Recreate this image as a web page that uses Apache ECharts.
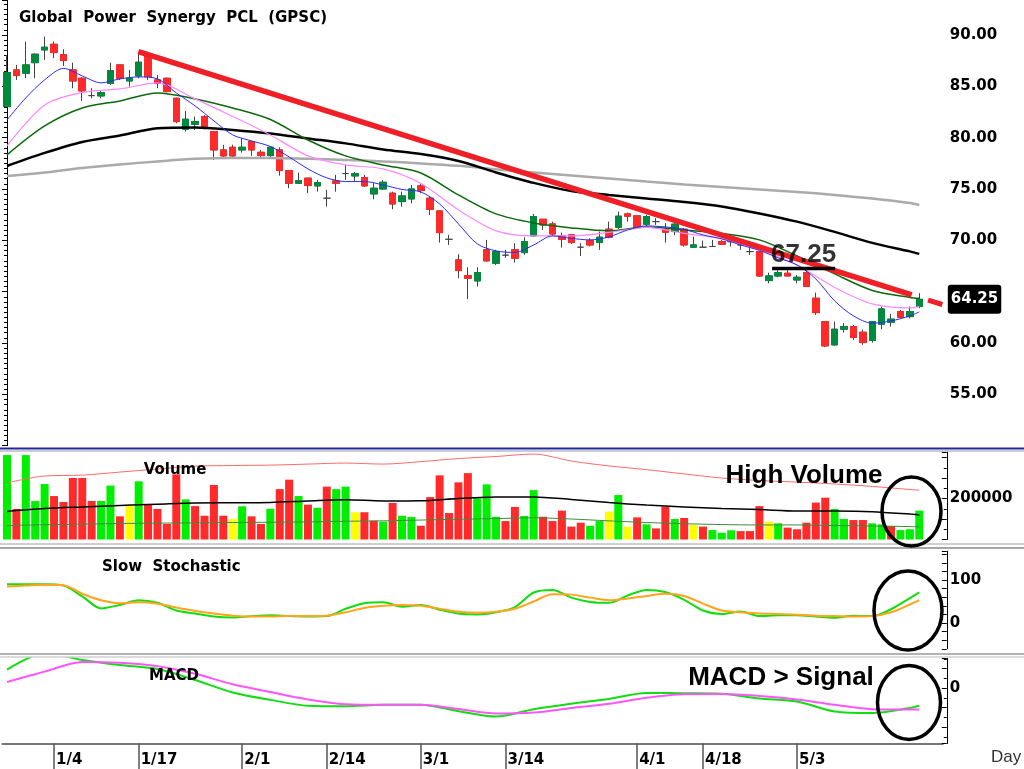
<!DOCTYPE html>
<html>
<head>
<meta charset="utf-8">
<title>GPSC</title>
<script src="https://cdn.jsdelivr.net/npm/echarts@6/dist/echarts.min.js"></script>
<style>
html, body { margin: 0; padding: 0; background: #fff; }
#main { width: 1024px; height: 769px; }
</style>
</head>
<body>
<div id="main"></div>
<script>
// daily candles (98 sessions)
var opens = [83.02,86.59,86.27,87.30,88.54,89.09,88.08,86.59,85.78,84.09,
84.06,85.29,87.08,85.52,86.01,87.89,85.62,85.78,83.83,80.82,
81.30,82.05,80.59,78.80,79.06,78.80,79.61,78.57,78.25,78.80,
76.79,75.56,76.05,75.30,74.10,75.78,76.50,76.27,76.11,74.52,
75.00,74.59,73.77,74.03,75.30,74.10,72.86,70.10,68.09,66.56,
66.05,69.07,67.77,68.55,69.07,68.80,70.43,72.05,71.60,70.43,
70.53,69.33,69.97,69.78,71.08,71.27,72.57,72.38,71.57,71.82,
71.08,70.85,71.08,69.33,69.33,69.40,69.87,69.87,69.55,68.90,
68.90,66.08,66.53,66.79,66.14,66.85,64.36,62.09,59.82,61.34,
61.60,61.05,60.24,61.83,62.03,63.06,62.57,63.55];
var closes = [86.33,86.04,87.08,88.12,88.80,88.28,87.50,85.52,84.55,84.09,
84.38,86.52,85.78,85.78,87.34,85.94,85.29,84.48,81.56,81.79,
81.56,80.92,78.80,78.22,78.22,79.06,78.80,78.25,79.06,76.79,
75.56,75.81,75.33,75.62,74.10,75.56,76.50,76.50,75.30,75.07,
75.65,73.54,74.32,75.00,74.84,73.02,70.75,70.10,67.05,66.31,
66.85,68.00,68.90,68.55,68.26,69.87,72.31,71.50,70.62,70.10,
69.78,69.33,69.55,70.30,70.30,72.35,72.35,71.27,72.31,71.82,
70.79,71.57,69.55,69.55,69.33,69.40,69.62,69.87,69.55,68.90,
66.53,66.53,66.85,66.53,66.40,65.50,62.96,59.72,61.34,61.60,
60.53,60.04,62.09,63.32,62.32,62.51,63.06,64.25];
var lows = [83.00,85.62,85.78,85.78,87.57,87.73,86.98,84.81,83.57,83.83,
83.83,85.13,85.62,84.97,85.78,85.62,84.81,84.40,81.40,80.59,
80.75,80.80,77.83,78.10,78.10,78.54,78.22,78.10,78.10,76.30,
75.07,75.50,74.59,74.74,73.28,74.74,75.88,75.72,75.20,74.00,
74.90,73.02,73.28,73.60,74.59,72.47,69.78,69.55,66.31,64.29,
65.50,67.90,67.60,68.30,67.83,68.58,70.35,71.01,70.43,69.29,
69.65,68.48,69.40,69.07,70.20,71.10,71.82,71.20,71.40,71.50,
69.78,70.50,69.39,69.33,69.33,69.40,69.55,69.40,69.07,68.58,
66.45,65.82,66.40,66.50,65.82,65.45,62.74,59.59,59.75,61.01,
60.30,59.82,60.04,61.34,61.60,62.40,62.40,63.39];
var highs = [88.05,87.08,89.35,88.20,89.84,89.35,88.60,87.30,85.90,84.81,
84.64,87.30,87.10,86.59,88.20,88.37,86.10,85.85,83.90,82.60,
82.05,82.20,80.65,79.29,79.30,79.94,79.70,78.80,79.19,79.06,
76.85,76.59,76.10,75.88,74.91,76.37,77.34,76.65,76.37,75.56,
75.88,74.74,74.74,75.39,75.56,74.25,72.90,70.53,68.64,67.38,
67.38,70.04,69.07,69.07,69.72,70.30,72.57,72.10,71.82,70.75,
70.60,69.72,70.20,70.85,71.82,72.80,72.70,72.40,72.50,72.15,
71.67,71.67,71.20,70.36,69.97,70.04,70.04,70.36,69.87,69.40,
68.95,66.85,67.10,67.27,66.63,67.27,64.91,62.10,62.09,61.93,
61.76,61.30,62.12,63.55,62.83,63.22,63.55,64.85];
var volumes = [412000,149000,412000,188000,271000,212000,183000,300000,300000,188000,
188000,263000,113000,172000,284000,172000,149000,76000,318000,196000,
163000,116000,266000,116000,100000,162000,113000,76000,150000,246000,
292000,212000,170000,155000,258000,246000,258000,133000,133000,92000,
87000,178000,116000,110000,67000,207000,313000,129000,279000,324000,
201000,269000,111000,90000,159000,115000,241000,111000,90000,141000,
63000,82000,67000,90000,136000,217000,63000,108000,74000,54000,
160000,100000,105000,71000,63000,46000,33000,45000,41000,41000,
163000,87000,79000,58000,50000,82000,180000,204000,149000,100000,
95000,95000,79000,74000,66000,46000,50000,141000];

// sampled days for the overlay lines
var S4 = [0,4,8,12,16,20,24,28,32,36,40,44,48,52,56,60,64,68,72,76,80,84,88,92,96,97];
var S2 = [0,2,4,6,8,10,12,14,16,18,20,22,24,26,28,30,32,34,36,38,40,42,44,46,48,
50,52,54,56,58,60,62,64,66,68,70,72,74,76,78,80,82,84,86,88,90,92,94,96,97];

// moving averages
var maGray = [76.27,76.61,77.05,77.39,77.68,77.93,78.02,78.02,77.93,77.83,77.68,77.49,77.25,
76.91,76.61,76.32,76.03,75.73,75.44,75.19,74.95,74.71,74.42,74.07,73.63,73.44];
var maBlack = [77.24,78.51,79.58,80.21,80.90,80.99,80.75,80.41,79.92,79.44,78.85,78.41,77.73,
76.61,75.59,74.81,74.42,74.08,73.74,73.30,72.62,71.82,70.82,69.75,68.92,68.68];
var maGreen = [78.32,81.14,82.89,83.57,84.35,83.77,82.89,81.77,79.77,78.22,77.34,76.56,74.42,
72.57,71.69,71.21,70.92,71.30,71.01,70.67,70.04,68.48,66.73,65.12,64.44,64.36];
var maViolet = [79.19,83.18,84.40,84.74,85.33,83.77,82.06,80.26,78.22,77.34,76.95,75.54,72.96,
70.92,70.43,70.43,70.77,71.26,70.67,70.14,69.07,67.60,65.41,63.81,63.42,63.54];
var maBlue = [81.72,83.87,85.62,86.74,86.01,85.33,85.72,85.91,85.72,84.35,83.09,81.63,80.26,
79.68,79.14,78.12,76.95,76.08,75.72,75.72,75.39,74.95,74.71,73.54,71.60,69.65,68.97,68.82,
69.55,70.43,70.19,70.04,70.33,71.01,71.40,71.30,71.06,70.53,70.14,69.55,69.02,68.29,67.60,
66.24,64.10,62.64,61.93,62.15,62.64,63.03];

// volume overlays
var volUpper = [276000,310000,314000,329000,344000,358000,361000,363000,368000,373000,368000,380000,
395000,405000,417000,383000,359000,341000,320000,300000,288000,280000,271000,259000,244000,241000];
var volAvg = [137000,151000,159000,166000,172000,178000,179000,181000,188000,194000,188000,189000,
200000,207000,208000,195000,180000,168000,159000,151000,146000,139000,139000,136000,124000,120000];
var volLower = [68000,72000,75000,78000,80000,81000,83000,84000,86000,89000,91000,95000,99000,
102000,106000,100000,91000,83000,77000,73000,71000,71000,68000,66000,63000,62000];

// slow stochastic
var stochK = [90,90,90,87,62,34,42,53,47,29,22,15,13,16,18,16,15,16,33,46,48,38,42,31,22,
20,25,37,71,77,59,49,47,64,77,72,54,29,21,27,16,18,18,15,12,17,16,32,58,71];
var stochD = [85,87,89,88,68,53,46,48,45,36,28,22,17,15,15,16,16,17,25,35,40,42,40,33,26,
24,26,33,50,67,66,59,53,57,63,68,63,45,29,25,22,21,19,17,16,15,16,25,43,53];

// MACD
var macdLine = [0.95,1.8,1.45,1.19,0.98,0.42,-0.22,-0.6,-0.9,-0.93,-0.85,-0.85,-1.18,-1.46,
-1.08,-0.8,-0.55,-0.25,-0.26,-0.28,-0.53,-0.68,-1.2,-1.28,-1.02,-0.9];
var signalLine = [0.32,0.85,1.35,1.3,1.13,0.74,0.2,-0.2,-0.58,-0.82,-0.85,-0.85,-1.07,-1.3,
-1.25,-1.02,-0.8,-0.49,-0.31,-0.3,-0.4,-0.58,-0.85,-1.08,-1.1,-1.1];

// drawn trend line and resistance mark
var trendX = [13.96, 96.2];
var trendY = [88.37, 64.68];
var trendExtX = [97.93, 99.45];
var trendExtY = [64.18, 63.75];
var resistX = [81.35, 88.05];
var resistLevel = 67.25;

var tickIndex = [5, 14, 25, 34, 44, 53, 67, 74, 84];
var tickLabels = ['1/4', '1/17', '2/1', '2/14', '3/1', '3/14', '4/1', '4/18', '5/3'];

var nCats = opens.length + 2;
var cats = [];
for (var i = 0; i < nCats; i++) cats.push(String(i));

function pairs(idx, vals) {
    return idx.map(function (d, k) { return [d, vals[k]]; });
}

var upCol = '#008a3e', dnCol = '#ff2a2a';
var lastClose = closes[closes.length - 1];
var wickData = opens.map(function (o, k) { return [o, closes[k], lows[k], highs[k]]; });
var bodyData = opens.map(function (o, k) {
    var c = closes[k];
    return o === c ? '-' : [o, c, Math.min(o, c), Math.max(o, c)];
});
var volData = volumes.map(function (v, k) {
    var col = '#00ee00';
    if (k > 0 && closes[k] < closes[k - 1]) col = '#ff2a2a';
    else if (k > 0 && closes[k] === closes[k - 1]) col = '#ffff00';
    return { value: v, itemStyle: { color: col } };
});

var fontSmall = '"DejaVu Sans", sans-serif';
var fontBig = '"Liberation Sans", Arial, sans-serif';
var L = 2.3, R = 81.2;

function isTick(idx) { return tickIndex.indexOf(idx) >= 0; }

function hiddenCat(g) {
    return { type: 'category', gridIndex: g, data: cats, show: false };
}
function rightAxis(g, extra) {
    var a = {
        gridIndex: g, type: 'value', position: 'right', offset: 4,
        splitLine: { show: false },
        axisLine: { show: true, lineStyle: { color: '#000', width: 1 } },
        axisTick: { show: true, inside: true, length: 5, lineStyle: { color: '#000' } },
        axisLabel: { color: '#000', fontWeight: 'bold', fontSize: 15, fontFamily: fontSmall, margin: 3 }
    };
    for (var k in extra) a[k] = extra[k];
    return a;
}
function line(name, xi, yi, data, color, width, extra) {
    var s = {
        name: name, type: 'line', xAxisIndex: xi, yAxisIndex: yi, data: data,
        symbol: 'none', smooth: 0.3, lineStyle: { color: color, width: width }
    };
    for (var k in extra) s[k] = extra[k];
    return s;
}

var chart = echarts.init(document.getElementById('main'));
var option = {
    animation: false,
    backgroundColor: '#fff',
    title: {
        text: 'Global  Power  Synergy  PCL  (GPSC)', left: 14, top: 6,
        textStyle: { fontFamily: fontSmall, fontWeight: 'bold', fontSize: 15, color: '#000' }
    },
    grid: [
        { left: L, right: R, top: 0, height: 445.7, outerBoundsMode: 'none' },
        { left: L, right: R, top: 452, height: 87.5, outerBoundsMode: 'none' },
        { left: L, right: R, top: 551.2, height: 97.6, outerBoundsMode: 'none' },
        { left: L, right: R, top: 658, height: 85.5, outerBoundsMode: 'none' }
    ],
    xAxis: [
        hiddenCat(0),
        { type: 'value', gridIndex: 0, min: -0.5, max: nCats - 0.5, show: false },
        hiddenCat(1),
        hiddenCat(2),
        {
            type: 'category', gridIndex: 3, data: cats, position: 'bottom',
            axisLine: { show: true, onZero: false, lineStyle: { color: '#777', width: 2 } },
            axisTick: { show: true, alignWithLabel: true, interval: isTick, length: 26, lineStyle: { color: '#555', width: 1.5 } },
            axisLabel: {
                interval: isTick, align: 'left', margin: 9, padding: [0, 0, 0, 2],
                color: '#000', fontWeight: 'bold', fontSize: 15, fontFamily: fontSmall,
                formatter: function (v, idx) {
                    var k = tickIndex.indexOf(idx);
                    return k >= 0 ? tickLabels[k] : '';
                }
            }
        }
    ],
    yAxis: [
        rightAxis(0, {
            min: 50, max: 93.4, interval: 5,
            minorTick: { show: true, splitNumber: 10, length: 3, lineStyle: { color: '#000' } },
            axisLabel: {
                color: '#000', fontWeight: 'bold', fontSize: 15, fontFamily: fontSmall, margin: 3,
                formatter: function (v) {
                    // the last-price box covers the label nearest to it
                    if (Math.abs(v - lastClose) < 2.5) return '';
                    return v >= 55 && v <= 90 ? v.toFixed(2) : '';
                }
            },
            axisPointer: {
                show: true, status: 'show', value: lastClose, snap: false,
                triggerTooltip: false, lineStyle: { color: 'rgba(0,0,0,0)', width: 0 },
                label: {
                    show: true, precision: 2, backgroundColor: '#000', color: '#fff',
                    fontWeight: 'bold', fontSize: 15, fontFamily: fontSmall,
                    padding: [7, 3, 7, 3], margin: 1
                }
            }
        }),
        rightAxis(1, {
            min: 0, max: 427000, interval: 100000,
            minorTick: { show: true, splitNumber: 2, length: 3, lineStyle: { color: '#000' } },
            axisLabel: {
                color: '#000', fontWeight: 'bold', fontSize: 15, fontFamily: fontSmall, margin: 3,
                formatter: function (v) { return v === 200000 ? '200000' : ''; }
            }
        }),
        rightAxis(2, {
            min: -60, max: 167, interval: 20,
            axisLabel: {
                color: '#000', fontWeight: 'bold', fontSize: 15, fontFamily: fontSmall, margin: 3,
                formatter: function (v) { return v === 0 || v === 100 ? String(v) : ''; }
            }
        }),
        rightAxis(3, {
            min: -2.84, max: 1.55,
            minorTick: { show: true, splitNumber: 2, length: 3, lineStyle: { color: '#000' } },
            axisLabel: {
                color: '#000', fontWeight: 'bold', fontSize: 15, fontFamily: fontSmall, margin: 3,
                formatter: function (v) { return v === 0 ? '0' : ''; }
            }
        })
    ],
    graphic: [
        { type: 'line', shape: { x1: 0, y1: 448.5, x2: 1024, y2: 448.5 }, style: { stroke: '#1f2a9a', lineWidth: 2 }, z: 50 },
        { type: 'line', shape: { x1: 0, y1: 451, x2: 1024, y2: 451 }, style: { stroke: '#b8b8c8', lineWidth: 1.5 }, z: 50 },
        { type: 'line', shape: { x1: 0, y1: 544, x2: 1024, y2: 544 }, style: { stroke: '#d0d0d0', lineWidth: 2 }, z: 50 },
        { type: 'line', shape: { x1: 0, y1: 548, x2: 1024, y2: 548 }, style: { stroke: '#8a8a8a', lineWidth: 1.5 }, z: 50 },
        { type: 'line', shape: { x1: 0, y1: 654, x2: 1024, y2: 654 }, style: { stroke: '#9a9a9a', lineWidth: 1.5 }, z: 50 },
        { type: 'line', shape: { x1: 0, y1: 657, x2: 1024, y2: 657 }, style: { stroke: '#d0d0d0', lineWidth: 1.5 }, z: 50 },
        { type: 'text', x: 175, y: 470, z: 60, style: { text: 'Volume', font: 'bold 15px ' + fontSmall, fill: '#000', align: 'center', verticalAlign: 'middle' } },
        { type: 'text', x: 102, y: 567, z: 60, style: { text: 'Slow  Stochastic', font: 'bold 15px ' + fontSmall, fill: '#000', align: 'left', verticalAlign: 'middle' } },
        { type: 'text', x: 149, y: 676, z: 60, style: { text: 'MACD', font: 'bold 15px ' + fontSmall, fill: '#000', align: 'left', verticalAlign: 'middle' } },
        { type: 'text', x: 804, y: 476, z: 60, style: { text: 'High Volume', font: 'bold 26px ' + fontBig, fill: '#000', align: 'center', verticalAlign: 'middle' } },
        { type: 'text', x: 781, y: 678, z: 60, style: { text: 'MACD > Signal', font: 'bold 26px ' + fontBig, fill: '#000', align: 'center', verticalAlign: 'middle' } },
        { type: 'text', x: 991, y: 757, z: 60, style: { text: 'Day', font: '17px ' + fontBig, fill: '#333', align: 'left', verticalAlign: 'middle' } },
        { type: 'ellipse', shape: { cx: 911.5, cy: 511.5, rx: 29.5, ry: 34.5 }, style: { fill: 'none', stroke: '#000', lineWidth: 3.5 }, z: 70 },
        { type: 'ellipse', shape: { cx: 908, cy: 610.5, rx: 34, ry: 39.5 }, style: { fill: 'none', stroke: '#000', lineWidth: 3.5 }, z: 70 },
        { type: 'ellipse', shape: { cx: 909, cy: 702.5, rx: 31.5, ry: 37 }, style: { fill: 'none', stroke: '#000', lineWidth: 3.5 }, z: 70 }
    ],
    series: [
        {
            name: 'wick', type: 'candlestick', xAxisIndex: 0, yAxisIndex: 0, data: wickData, barWidth: 7,
            itemStyle: { color: '#444', color0: '#444', borderColor: '#444', borderColor0: '#444', borderWidth: 1 }
        },
        {
            name: 'body', type: 'candlestick', xAxisIndex: 0, yAxisIndex: 0, data: bodyData, barWidth: 7,
            itemStyle: { color: upCol, color0: dnCol, borderColor: upCol, borderColor0: dnCol, borderWidth: 1 }
        },
        line('MA long', 0, 0, pairs(S4, maGray), '#aaaaaa', 2.5),
        line('MA 50', 0, 0, pairs(S4, maBlack), '#000000', 2.5),
        line('MA 25', 0, 0, pairs(S4, maGreen), '#0b6a0b', 1.5),
        line('MA 10', 0, 0, pairs(S4, maViolet), '#ff88ff', 1.2),
        line('MA 5', 0, 0, pairs(S2, maBlue), '#2a2aff', 1),
        {
            name: 'trend', type: 'line', xAxisIndex: 1, yAxisIndex: 0, data: pairs(trendX, trendY),
            symbol: 'none', lineStyle: { color: '#ee1f26', width: 5.5, cap: 'butt' }
        },
        {
            name: 'trend ext', type: 'line', xAxisIndex: 1, yAxisIndex: 0, data: pairs(trendExtX, trendExtY),
            symbol: 'none', lineStyle: { color: '#ee1f26', width: 5, cap: 'butt' }
        },
        {
            name: 'resistance', type: 'line', xAxisIndex: 1, yAxisIndex: 0,
            data: [[resistX[0], resistLevel], [resistX[1], resistLevel]],
            symbol: 'none', lineStyle: { color: '#000', width: 3.5 }, z: 5
        },
        {
            name: 'resistance label', type: 'scatter', xAxisIndex: 1, yAxisIndex: 0,
            data: [[(resistX[0] + resistX[1]) / 2, resistLevel]],
            symbolSize: 1, itemStyle: { color: 'rgba(0,0,0,0)' }, z: 6,
            label: {
                show: true, position: 'top', distance: 0, formatter: resistLevel.toFixed(2),
                color: '#000', fontWeight: 'bold', fontSize: 26, fontFamily: fontBig
            }
        },
        { name: 'volume', type: 'bar', xAxisIndex: 2, yAxisIndex: 1, data: volData, barWidth: 8 },
        line('vol upper', 2, 1, pairs(S4, volUpper), '#ff6a6a', 1),
        line('vol avg', 2, 1, pairs(S4, volAvg), '#000000', 1.5),
        line('vol lower', 2, 1, pairs(S4, volLower), '#3c8c3c', 1),
        line('%K', 3, 2, pairs(S2, stochK), '#11dd11', 2),
        line('%D', 3, 2, pairs(S2, stochD), '#ffa41c', 2),
        line('MACD', 4, 3, pairs(S4, macdLine), '#11dd11', 2),
        line('Signal', 4, 3, pairs(S4, signalLine), '#ff55ff', 2)
    ]
};
chart.setOption(option);
</script>
</body>
</html>
